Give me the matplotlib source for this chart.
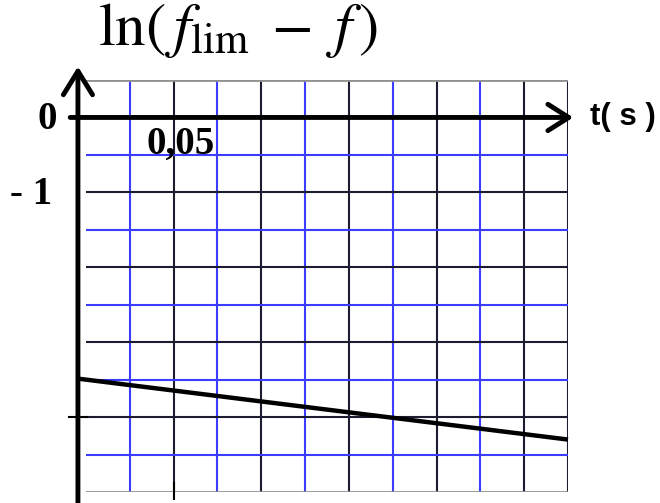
import matplotlib
matplotlib.use('Agg')
import matplotlib.pyplot as plt
import numpy as np

plt.rcParams['mathtext.fontset'] = 'stix'

# straight-line plot of ln(f_lim - f) against time
T_LINE = [0.0, 0.275]        # s
LN_LINE = [-3.5, -4.3]

T_TICK = 0.05
T_TICK_LABEL = '0,05'
LN_TICK = -4.0
LN_VALUES = [0.0, -1.0]
LN_TEXTS = ['0', '- 1']

CELL_T = 0.025
CELL_LN = 0.5
T_MAX = 0.275
LN_MIN, LN_MAX = -5.0, 0.5
AXIS_T = -0.0046             # the vertical axis sits a little left of the grid

BLUE = '#3c3cff'
DARK = '#1c1c30'

fig = plt.figure(figsize=(6.6, 5.03), dpi=100)
ax = fig.add_axes([86 / 660, 11 / 503, 482 / 660, 412 / 503])
ax.set_xlim(0, T_MAX)
ax.set_ylim(LN_MIN, LN_MAX)
ax.axis('off')

# grid: blue and dark lines alternate, right border dark
n_cols = int(round(T_MAX / CELL_T))
for k in range(1, n_cols + 1):
    c = BLUE if (k % 2 and k != n_cols) else DARK
    ax.plot([k * CELL_T] * 2, [LN_MIN, LN_MAX], color=c, lw=1.5, zorder=1)
n_rows = int(round((LN_MAX - LN_MIN) / CELL_LN))
for k in range(1, n_rows):
    y = LN_MAX - k * CELL_LN
    if abs(y) < 1e-9:
        continue
    c = BLUE if k % 2 == 0 else DARK
    ax.plot([0, T_MAX], [y, y], color=c, lw=1.5, zorder=1)
for y in (LN_MIN, LN_MAX):
    ax.plot([0, T_MAX], [y, y], color='#909090', lw=2, zorder=1)

# axes with open arrow heads
ax.annotate('', xy=(T_MAX + 0.003, 0), xytext=(-0.009, 0),
            arrowprops=dict(arrowstyle='->,head_length=1.5,head_width=0.95',
                            lw=3.5, color='black', shrinkA=0, shrinkB=0),
            annotation_clip=False, zorder=4)
ax.annotate('', xy=(AXIS_T, 0.68), xytext=(AXIS_T, -5.17),
            arrowprops=dict(arrowstyle='->,head_length=1.7,head_width=1.05',
                            lw=3.5, color='black', shrinkA=0, shrinkB=0),
            annotation_clip=False, zorder=4)

# small ticks
ax.plot([AXIS_T - 0.005, AXIS_T + 0.005], [LN_TICK, LN_TICK], color='black',
        lw=1.5, clip_on=False, zorder=4)
ax.plot([T_TICK, T_TICK], [-4.88, -5.1], color='black', lw=1.5,
        clip_on=False, zorder=4)

# fitted line, drawn from the vertical axis to the right edge
coef = np.polyfit(T_LINE, LN_LINE, 1)
t_draw = np.array([AXIS_T, T_LINE[-1]])
ax.plot(t_draw, np.polyval(coef, t_draw), color='black', lw=3.2, zorder=3,
        clip_on=False, solid_capstyle='butt')

# labels
for val, txt, xr in zip(LN_VALUES, LN_TEXTS, [-0.0166, -0.0194]):
    ax.text(xr, val - 0.03, txt, ha='right', va='center',
            fontsize=28, fontweight='bold', family='Liberation Serif',
            clip_on=False)
ax.text(0.0542, -0.36, T_TICK_LABEL, ha='center', va='center', fontsize=28,
        fontweight='bold', family='Liberation Serif', zorder=5)
ax.text(0.2875, 0.0, 't( s )', ha='left', va='center', fontsize=22.5,
        fontweight='bold', family='Liberation Sans', clip_on=False)

fig.text(238 / 660, 1 - 45 / 503, r'$\mathrm{ln}(\,f_{\mathrm{lim}}\;-\;f\,)$',
         ha='center', va='baseline', fontsize=44)

fig.savefig('out.png', dpi=100)
